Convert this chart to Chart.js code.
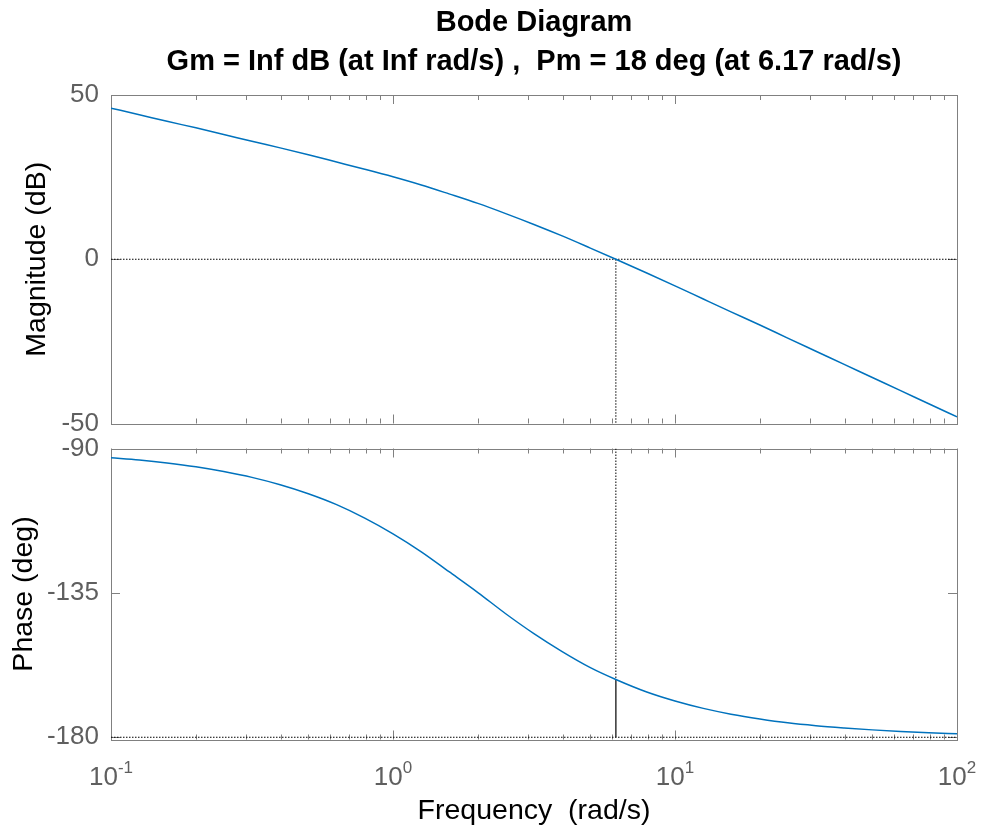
<!DOCTYPE html>
<html>
<head>
<meta charset="utf-8">
<title>Bode Diagram</title>
<script src="https://cdn.jsdelivr.net/npm/chart.js@4.4.1/dist/chart.umd.min.js"></script>
<style>
  html, body { margin: 0; padding: 0; background: #ffffff; }
  #wrap { position: relative; width: 982px; height: 833px; overflow: hidden; background: #ffffff; }
  #wrap canvas { position: absolute; left: 0; }
  #magCanvas { top: 0; }
  #phaseCanvas { top: 420px; }
</style>
</head>
<body>
<div id="wrap">
  <canvas id="magCanvas" width="982" height="440"></canvas>
  <canvas id="phaseCanvas" width="982" height="413"></canvas>
</div>
<script>
// Frequency response samples (rad/s)
const freq = [0.1, 0.126, 0.158, 0.2, 0.251, 0.316, 0.398, 0.501, 0.631, 0.794,
              1, 1.26, 1.58, 2, 2.51, 3.16, 3.98, 5.01, 6.17, 7.94,
              10, 12.6, 15.8, 20, 25.1, 31.6, 39.8, 50.1, 63.1, 79.4, 100];

// Magnitude (dB)
const magnitudeDb = [46.0, 44.0, 42.0, 40.0, 38.0, 35.9, 33.9, 31.8, 29.6, 27.4,
                     25.1, 22.6, 19.9, 17.0, 13.9, 10.6, 7.1, 3.4, 0.0, -4.2,
                     -8.1, -12.1, -16.0, -20.0, -24.0, -28.0, -32.0, -36.0, -40.0, -44.0, -48.0];

// Phase (deg)
const phaseDeg = [-92.9, -93.6, -94.5, -95.7, -97.2, -99.0, -101.3, -104.1, -107.5, -111.7,
                  -116.6, -122.2, -128.4, -134.9, -141.5, -147.7, -153.3, -158.3, -162.0, -165.9,
                  -168.7, -171.0, -172.8, -174.3, -175.5, -176.4, -177.1, -177.7, -178.2, -178.6, -178.9];

// Gain crossover and phase margin markers
const crossoverFreq = 6.17;
const phaseAtCrossover = -162.0;
const phaseReference = -180;

// Axis ranges and tick labels
const freqRange = [0.1, 100];
const decadeExponents = [-1, 0, 1, 2];
const magRange = [-50, 50];
const magTicks = [-50, 0, 50];
const phaseRange = [-180.7, -90];
const phaseTicks = [-180, -135, -90];

const titleLines = ['Bode Diagram', 'Gm = Inf dB (at Inf rad/s) ,  Pm = 18 deg (at 6.17 rad/s)'];
const magLabel = 'Magnitude (dB)';
const phaseLabel = 'Phase (deg)';
const freqLabel = 'Frequency  (rad/s)';

const FONT = '"Liberation Sans", Arial, Helvetica, sans-serif';
const AXIS_GRAY = '#808080';
const LABEL_GRAY = '#5f5f5f';
const CURVE_BLUE = '#0072BD';

const toPoints = (xs, ys) => xs.map((x, i) => ({ x: x, y: ys[i] }));

// Box around the axes with inward tick marks (log minors on x)
const axesFrame = {
  id: 'axesFrame',
  beforeDatasetsDraw(chart) {
    const { ctx, chartArea: a, scales: { x, y } } = chart;
    ctx.save();
    ctx.strokeStyle = AXIS_GRAY;
    ctx.lineWidth = 1;
    ctx.beginPath();
    for (const e of decadeExponents) {
      for (let m = 1; m <= 9; m++) {
        const v = m * Math.pow(10, e);
        if (v < x.min * 0.999 || v > x.max * 1.001) continue;
        const px = Math.round(x.getPixelForValue(v)) + 0.5;
        const len = m === 1 ? 9 : 5;
        ctx.moveTo(px, a.top); ctx.lineTo(px, a.top + len);
        ctx.moveTo(px, a.bottom); ctx.lineTo(px, a.bottom - len);
      }
    }
    for (const t of y.ticks) {
      const py = Math.round(y.getPixelForValue(t.value)) + 0.5;
      ctx.moveTo(a.left, py); ctx.lineTo(a.left + 9, py);
      ctx.moveTo(a.right, py); ctx.lineTo(a.right - 9, py);
    }
    ctx.stroke();
    ctx.strokeRect(Math.round(a.left) + 0.5, Math.round(a.top) + 0.5,
                   Math.round(a.right - a.left), Math.round(a.bottom - a.top));
    ctx.restore();
  }
};

// Power-of-ten labels under the frequency axis
const decadeLabels = {
  id: 'decadeLabels',
  afterDraw(chart) {
    const { ctx, chartArea: a, scales: { x } } = chart;
    ctx.save();
    ctx.fillStyle = LABEL_GRAY;
    ctx.textAlign = 'left';
    ctx.textBaseline = 'alphabetic';
    const baseFont = '26px ' + FONT;
    const expFont = '17px ' + FONT;
    for (const e of decadeExponents) {
      const base = '10';
      const exp = String(e);
      ctx.font = baseFont;
      const wb = ctx.measureText(base).width;
      ctx.font = expFont;
      const we = ctx.measureText(exp).width;
      const left = x.getPixelForValue(Math.pow(10, e)) - (wb + we) / 2;
      ctx.font = baseFont;
      ctx.fillText(base, left, a.bottom + 45.5);
      ctx.font = expFont;
      ctx.fillText(exp, left + wb, a.bottom + 33.5);
    }
    ctx.restore();
  }
};

function yAxis(range, ticks, label, titlePadTop) {
  return {
    type: 'linear',
    position: 'left',
    min: range[0],
    max: range[1],
    afterBuildTicks(scale) { scale.ticks = ticks.map(v => ({ value: v })); },
    afterFit(scale) {
      scale.width = 111;
      scale.paddingTop = 0;
      scale.paddingBottom = 0;
    },
    grid: { display: false, drawTicks: false },
    border: { display: false },
    ticks: {
      padding: 12,
      color: LABEL_GRAY,
      font: { family: FONT, size: 26 },
      callback: v => String(v)
    },
    title: {
      display: true,
      text: label,
      color: '#000000',
      font: { family: FONT, size: 28.5, lineHeight: 1.2 },
      padding: { top: titlePadTop, bottom: 0 }
    }
  };
}

const curveStyle = {
  borderColor: CURVE_BLUE,
  borderWidth: 1.5,
  pointRadius: 0,
  cubicInterpolationMode: 'monotone',
  fill: false,
  order: 0
};
const dottedStyle = {
  borderColor: '#000000',
  borderWidth: 1,
  borderDash: [1.5, 1.5],
  pointRadius: 0,
  fill: false,
  order: 1
};

const commonOptions = {
  responsive: false,
  animation: false,
  events: [],
  parsing: true
};

// Magnitude panel
new Chart(document.getElementById('magCanvas'), {
  type: 'line',
  data: {
    datasets: [
      Object.assign({ data: toPoints(freq, magnitudeDb) }, curveStyle),
      Object.assign({ data: [{ x: freqRange[0], y: 0 }, { x: freqRange[1], y: 0 }] }, dottedStyle),
      Object.assign({ data: [{ x: crossoverFreq, y: 0 }, { x: crossoverFreq, y: magRange[0] }] }, dottedStyle)
    ]
  },
  options: Object.assign({}, commonOptions, {
    layout: { padding: { top: 0, right: 25, bottom: 16.5, left: 0 } },
    scales: {
      x: { type: 'logarithmic', min: freqRange[0], max: freqRange[1], display: false },
      y: yAxis(magRange, magTicks, magLabel, 20.4)
    },
    plugins: {
      legend: { display: false },
      tooltip: { enabled: false },
      title: {
        display: true,
        fullSize: false,
        text: titleLines,
        color: '#000000',
        font: { family: FONT, size: 29, weight: 'bold', lineHeight: 39 / 29 },
        padding: { top: 3, bottom: 14 }
      }
    }
  }),
  plugins: [axesFrame]
});

// Phase panel
new Chart(document.getElementById('phaseCanvas'), {
  type: 'line',
  data: {
    datasets: [
      Object.assign({ data: toPoints(freq, phaseDeg) }, curveStyle),
      Object.assign({ data: [{ x: freqRange[0], y: phaseReference }, { x: freqRange[1], y: phaseReference }] }, dottedStyle),
      Object.assign({ data: [{ x: crossoverFreq, y: phaseRange[1] }, { x: crossoverFreq, y: phaseAtCrossover }] }, dottedStyle),
      {
        data: [{ x: crossoverFreq, y: phaseAtCrossover }, { x: crossoverFreq, y: phaseReference }],
        borderColor: '#333333',
        borderWidth: 1.5,
        pointRadius: 0,
        fill: false,
        order: 1
      }
    ]
  },
  options: Object.assign({}, commonOptions, {
    layout: { padding: { top: 28.5, right: 25, bottom: 0, left: 0 } },
    scales: {
      x: {
        type: 'logarithmic',
        min: freqRange[0],
        max: freqRange[1],
        afterFit(scale) { scale.height = 93.5; },
        grid: { display: false, drawTicks: false },
        border: { display: false },
        ticks: { display: false },
        title: {
          display: true,
          text: freqLabel,
          color: '#000000',
          font: { family: FONT, size: 28.5, lineHeight: 1.2 },
          padding: { top: 0, bottom: 4.9 }
        }
      },
      y: yAxis(phaseRange, phaseTicks, phaseLabel, 6.9)
    },
    plugins: {
      legend: { display: false },
      tooltip: { enabled: false },
      title: { display: false }
    }
  }),
  plugins: [axesFrame, decadeLabels]
});
</script>
</body>
</html>
